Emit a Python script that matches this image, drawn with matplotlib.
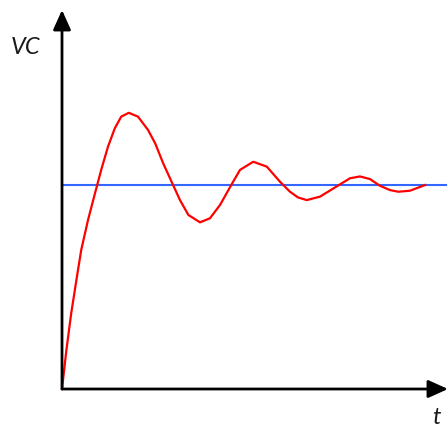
import matplotlib
matplotlib.use("Agg")
import matplotlib.pyplot as plt

# Step response of VC (t in arbitrary units, vc relative to final value)
t_vals = [0.0, 0.11, 0.23, 0.36, 0.48, 0.65, 0.78, 0.88, 0.98, 1.15, 1.32, 1.48,
          1.67, 1.90, 2.15, 2.33, 2.53, 2.77, 2.95, 3.16, 3.45, 3.70, 3.95, 4.24,
          4.45, 4.78, 5.12, 5.45, 5.70, 5.90, 6.12, 6.45, 6.70, 6.95, 7.20, 7.45,
          7.70, 7.95, 8.20, 8.41, 8.70, 9.08]
vc_vals = [0.0, 0.191, 0.371, 0.534, 0.681, 0.828, 0.926, 1.000, 1.074, 1.188, 1.278, 1.335,
           1.354, 1.335, 1.270, 1.204, 1.106, 1.003, 0.926, 0.853, 0.817, 0.837, 0.902, 1.003,
           1.074, 1.114, 1.090, 1.016, 0.967, 0.939, 0.926, 0.943, 0.973, 1.003, 1.033, 1.042,
           1.029, 0.996, 0.975, 0.967, 0.972, 1.000]
final_value = 1.0

fig = plt.figure(figsize=(4.48, 4.28), dpi=100)
ax = fig.add_axes([0, 0, 1, 1])
sx, sy = 40.0, 204.0  # px per unit
ox, oy = 62.0, 389.0  # origin in pixels (from top-left)
ax.set_xlim(-ox / sx, (448 - ox) / sx)
ax.set_ylim(-(428 - oy) / sy, oy / sy)
ax.axis('off')

x_end = (447 - ox) / sx
ax.plot([0, x_end], [final_value, final_value], color='#3366ff', lw=1.5, solid_capstyle='butt', zorder=2)
ax.plot(t_vals, vc_vals, color='#ff0000', lw=1.6, zorder=3, solid_joinstyle='round')

arrow = dict(arrowstyle='-|>,head_length=0.6,head_width=0.27', lw=2, color='black',
             mutation_scale=20, shrinkA=0, shrinkB=0)
ax.annotate('', xy=(0, (oy - 10) / sy), xytext=(0, 0), arrowprops=arrow, zorder=4)
ax.annotate('', xy=((448 - ox) / sx, 0), xytext=(0, 0), arrowprops=arrow, zorder=4)

font = dict(family=['Lato', 'DejaVu Sans'], style='italic', weight='normal', fontsize=17, color='#1a1a1a')
fig.text(11 / 448, 1 - 54 / 428, 'VC', ha='left', va='baseline', **font)
fig.text(436 / 448, 1 - 424 / 428, 't', ha='center', va='baseline', **font)

fig.savefig('out.png', dpi=100)
